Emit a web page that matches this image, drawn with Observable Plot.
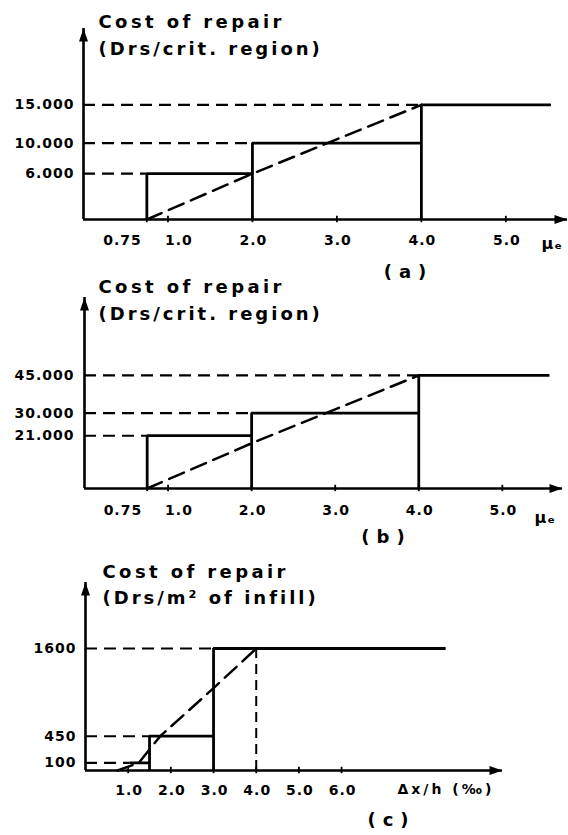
<!DOCTYPE html>
<html><head><meta charset="utf-8">
<script src="https://cdn.jsdelivr.net/npm/d3@7"></script>
<script src="https://cdn.jsdelivr.net/npm/@observablehq/plot@0.6"></script>
<style>
html,body{margin:0;padding:0;background:#fff;}
#wrap{position:relative;width:568px;height:835px;overflow:hidden;background:#fff;}
#wrap svg{position:absolute;left:0;overflow:visible;background:transparent;}
text[aria-label="title"]{letter-spacing:3.4px;}
text[aria-label="subtitle"]{letter-spacing:3px;}
text[aria-label="ticklabel"]{letter-spacing:1px;}
text[aria-label="costlabel"]{letter-spacing:1px;}
text[aria-label="panel"]{letter-spacing:7px;}
text[aria-label="axislabel"]{letter-spacing:3px;}
text[aria-label="mulabel"]{letter-spacing:1px;}
</style></head><body><div id="wrap"></div>
<script>
// ---------- Panel (a) ----------
const aTicks = [0.75, 1, 2, 3, 4, 5];
const aTickLabels = ["0.75", "1.0", "2.0", "3.0", "4.0", "5.0"];
const aStepStart = [0.75, 2, 4];
const aStepEnd = [2, 4, 5.54];
const aCost = [6000, 10000, 15000];
const aCostLabels = ["6.000", "10.000", "15.000"];
const aTrendX = [0.75, 2, 4];
const aTrendY = [0, 6000, 15000];

// ---------- Panel (b) ----------
const bTicks = [0.75, 1, 2, 3, 4, 5];
const bTickLabels = ["0.75", "1.0", "2.0", "3.0", "4.0", "5.0"];
const bStepStart = [0.75, 2, 4];
const bStepEnd = [2, 4, 5.57];
const bCost = [21000, 30000, 45000];
const bCostLabels = ["21.000", "30.000", "45.000"];
const bTrendX = [0.75, 2, 4];
const bTrendY = [0, 18000, 45000];

// ---------- Panel (c) ----------
const cTicks = [1, 2, 3, 4, 5, 6];
const cTickLabels = ["1.0", "2.0", "3.0", "4.0", "5.0", "6.0"];
const cStepStart = [1.05, 1.5, 3];
const cStepEnd = [1.5, 3, 8.45];
const cCost = [100, 450, 1600];
const cCostLabels = ["100", "450", "1600"];
const cTrendX = [0.75, 1.25, 1.75, 3, 4];
const cTrendY = [0, 100, 450, 1080, 1600];
const cDropX = [4];

const titleLine1 = "Cost of repair";
const titleAB = "(Drs/crit. region)";
const titleC = "(Drs/m² of infill)";
const muLabel = "μₑ";
const driftLabel = "Δx/h (‰)";

const arrowUp = {draw(ctx){ctx.moveTo(0,0);ctx.lineTo(-4.5,13);ctx.lineTo(4.5,13);ctx.closePath();}};
const arrowRight = {draw(ctx){ctx.moveTo(0,0);ctx.lineTo(-13,-4.5);ctx.lineTo(-13,4.5);ctx.closePath();}};

function tag(name) { return () => name; }

function panel(cfg) {
  const steps = cfg.cost.map((c, i) => ({x1: cfg.stepStart[i], x2: cfg.stepEnd[i], c}));
  const trend = cfg.trendX.map((x, i) => ({x, y: cfg.trendY[i]}));
  const ticks = cfg.ticks.map((v, i) => ({v, label: cfg.tickLabels[i]}));
  const costs = cfg.cost.map((c, i) => ({c, label: cfg.costLabels[i]}));
  const tl = cfg.yMax * 3.2 / (cfg.axisY - cfg.topY);
  const font = {fontFamily: "DejaVu Sans", fontWeight: "bold", fill: "black"};
  const marks = [
    Plot.ruleY(steps, {y: "c", x1: 0, x2: "x1", stroke: "black", strokeWidth: 2.1, strokeDasharray: "12,7"}),
    Plot.ruleX(steps.slice(cfg.riserFrom), {x: "x1", y1: 0, y2: "c", stroke: "black", strokeWidth: 2.8}),
    Plot.ruleY(steps, {y: "c", x1: "x1", x2: "x2", stroke: "black", strokeWidth: 2.8}),
    Plot.line(trend, {x: "x", y: "y", stroke: "black", strokeWidth: 2.5, strokeDasharray: "16,8"}),
    Plot.ruleX([0], {y1: 0, y2: cfg.yMax, stroke: "black", strokeWidth: 2.6}),
    Plot.ruleY([0], {x1: 0, x2: cfg.xMax, stroke: "black", strokeWidth: 2.6}),
    Plot.dot([0], {x: 0, y: cfg.yMax, symbol: arrowUp, fill: "black", stroke: "none", r: 5}),
    Plot.dot([0], {x: cfg.xMax, y: 0, symbol: arrowRight, fill: "black", stroke: "none", r: 5}),
    Plot.ruleX(ticks, {x: "v", y1: -tl, y2: tl, stroke: "black", strokeWidth: 1.8}),
    Plot.text(costs, {x: 0, y: "c", text: "label", dx: cfg.costDx, textAnchor: "end", lineAnchor: "middle", fontSize: 14, ariaLabel: tag("costlabel"), ...font}),
    Plot.text([titleLine1], {frameAnchor: "top-left", text: d => d, dx: cfg.titleDx, dy: cfg.titleDy1, textAnchor: "start", lineAnchor: "bottom", fontSize: 18, ariaLabel: tag("title"), ...font}),
    Plot.text([cfg.title2], {frameAnchor: "top-left", text: d => d, dx: cfg.titleDx, dy: cfg.titleDy2, textAnchor: "start", lineAnchor: "bottom", fontSize: 18, ariaLabel: tag("subtitle"), ...font}),
    Plot.text([cfg.panelLabel], {frameAnchor: "top-left", text: d => d, dx: cfg.panelDx, dy: cfg.panelDy, textAnchor: "middle", lineAnchor: "middle", fontSize: 18, ariaLabel: tag("panel"), ...font}),
    Plot.text([cfg.xLabel], {x: cfg.xMax, y: 0, text: d => d, dx: cfg.xLabelDx, dy: cfg.xLabelDy, textAnchor: "start", lineAnchor: "middle", fontSize: cfg.xLabelSize, ariaLabel: tag(cfg.xLabelTag), ...font})
  ];
  if (cfg.shiftFirst) {
    marks.push(
      Plot.text(ticks, {filter: d => d.v < 1, x: "v", y: 0, text: "label", dx: -5, dy: cfg.tickDy, textAnchor: "end", lineAnchor: "middle", fontSize: 14, ariaLabel: tag("ticklabel"), ...font}),
      Plot.text(ticks, {filter: d => d.v === 1, x: "v", y: 0, text: "label", dx: -3, dy: cfg.tickDy, textAnchor: "start", lineAnchor: "middle", fontSize: 14, ariaLabel: tag("ticklabel"), ...font}),
      Plot.text(ticks, {filter: d => d.v > 1, x: "v", y: 0, text: "label", dx: 1, dy: cfg.tickDy, textAnchor: "middle", lineAnchor: "middle", fontSize: 14, ariaLabel: tag("ticklabel"), ...font})
    );
  } else {
    marks.push(Plot.text(ticks, {x: "v", y: 0, text: "label", dx: 1, dy: cfg.tickDy, textAnchor: "middle", lineAnchor: "middle", fontSize: 14, ariaLabel: tag("ticklabel"), ...font}));
  }
  if (cfg.dropX) {
    marks.push(Plot.ruleX(cfg.dropX, {x: d => d, y1: 0, y2: cfg.cost[cfg.cost.length - 1], stroke: "black", strokeWidth: 2, strokeDasharray: "10,6"}));
  }
  const svg = Plot.plot({
    width: 568, height: cfg.height,
    marginLeft: cfg.left, marginRight: 568 - cfg.right,
    marginTop: cfg.topY, marginBottom: cfg.height - cfg.axisY,
    x: {domain: [0, cfg.xMax], axis: null},
    y: {domain: [0, cfg.yMax], axis: null},
    style: {fontFamily: "DejaVu Sans", color: "black", background: "transparent", overflow: "visible"},
    marks
  });
  svg.style.top = cfg.top + "px";
  document.getElementById("wrap").appendChild(svg);
}

panel({top: 0, height: 278, left: 83, right: 567, axisY: 219, topY: 28, xMax: 5.73, yMax: 25000,
  ticks: aTicks, tickLabels: aTickLabels, stepStart: aStepStart, stepEnd: aStepEnd, cost: aCost, costLabels: aCostLabels,
  trendX: aTrendX, trendY: aTrendY, riserFrom: 0, shiftFirst: true, tickDy: 21, costDx: -9,
  title2: titleAB, titleDx: 15, titleDy1: -1, titleDy2: 26.5,
  panelLabel: "(a)", panelDx: 325, panelDy: 244,
  xLabel: muLabel, xLabelTag: "mulabel", xLabelDx: -26, xLabelDy: 24, xLabelSize: 16});

panel({top: 276, height: 272, left: 84, right: 562, axisY: 212, topY: 21, xMax: 5.72, yMax: 76000,
  ticks: bTicks, tickLabels: bTickLabels, stepStart: bStepStart, stepEnd: bStepEnd, cost: bCost, costLabels: bCostLabels,
  trendX: bTrendX, trendY: bTrendY, riserFrom: 0, shiftFirst: true, tickDy: 22, costDx: -10,
  title2: titleAB, titleDx: 14, titleDy1: -5, titleDy2: 22.5,
  panelLabel: "(b)", panelDx: 302, panelDy: 240,
  xLabel: muLabel, xLabelTag: "mulabel", xLabelDx: -28, xLabelDy: 29, xLabelSize: 16});

panel({top: 550, height: 285, left: 85, right: 502, axisY: 220, topY: 32, xMax: 9.77, yMax: 2466,
  ticks: cTicks, tickLabels: cTickLabels, stepStart: cStepStart, stepEnd: cStepEnd, cost: cCost, costLabels: cCostLabels,
  trendX: cTrendX, trendY: cTrendY, dropX: cDropX, riserFrom: 1, shiftFirst: false, tickDy: 20, costDx: -9,
  title2: titleC, titleDx: 17, titleDy1: -5, titleDy2: 21.5,
  panelLabel: "(c)", panelDx: 306, panelDy: 238,
  xLabel: driftLabel, xLabelTag: "axislabel", xLabelDx: -105, xLabelDy: 19, xLabelSize: 14});
</script></body></html>
